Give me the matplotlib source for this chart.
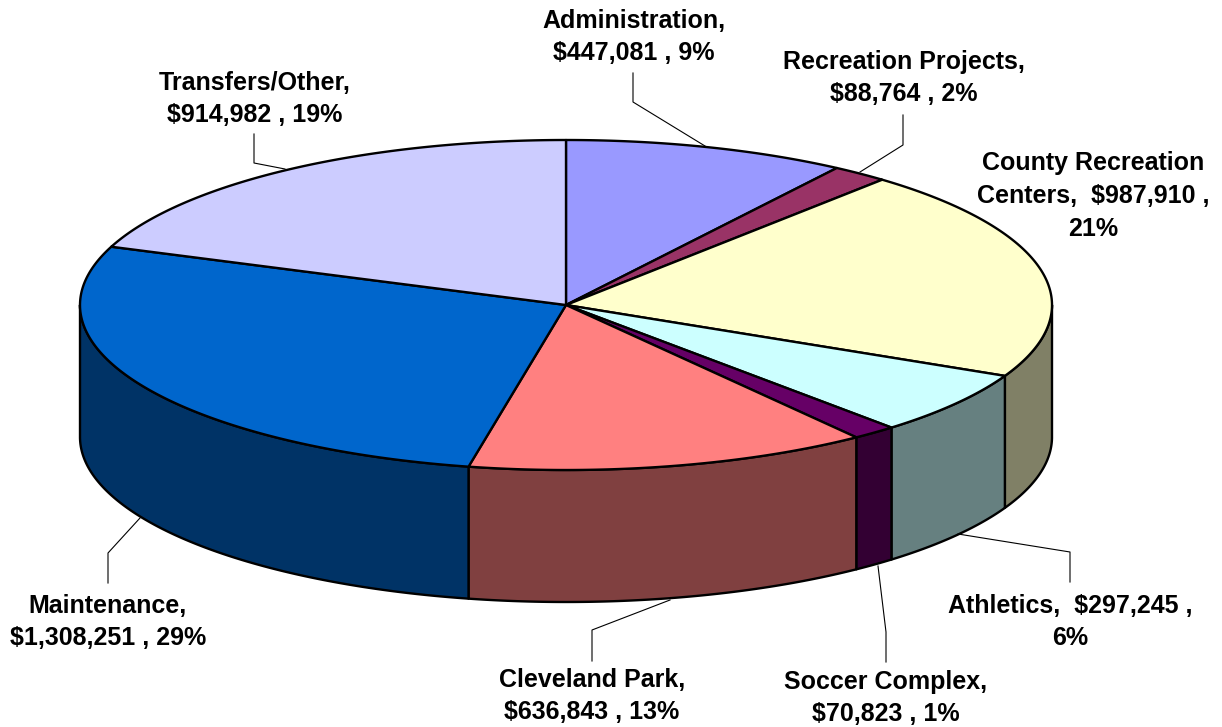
### Define Needed Libraries ###
import numpy as np
import matplotlib
matplotlib.use('Agg')
import matplotlib.pyplot as plt
from matplotlib.patches import Polygon

### Chart Data ###
names = ['Administration', 'Recreation Projects', 'County Recreation Centers', 'Athletics',
         'Soccer Complex', 'Cleveland Park', 'Maintenance', 'Transfers/Other']
values = [447081, 88764, 987910, 297245, 70823, 636843, 1308251, 914982]
labels = ['Administration,\n$447,081 , 9%',
          'Recreation Projects,\n$88,764 , 2%',
          'County Recreation\nCenters,  $987,910 ,\n21%',
          'Athletics,  $297,245 ,\n6%',
          'Soccer Complex,\n$70,823 , 1%',
          'Cleveland Park,\n$636,843 , 13%',
          'Maintenance,\n$1,308,251 , 29%',
          'Transfers/Other,\n$914,982 , 19%']
top_colors = ['#9999FF', '#993366', '#FFFFCC', '#CCFFFF', '#660066', '#FF8080', '#0066CC', '#CCCCFF']
side_colors = ['#4D4D80', '#4D1A33', '#808066', '#668080', '#330033', '#804040', '#003366', '#666680']

### Pie Geometry (pixels) ###
cx, cy = 566, 305
rx, ry = 486, 165
depth = 132

label_pos = [(634, 37), (904, 78), (1093, 196), (1070, 622),
             (886, 698), (592, 696), (108, 622), (255, 99)]
leaders = [[(633, 73), (633, 102), (705, 146)],
           [(903, 115), (903, 145), (860, 172)],
           None,
           [(1070, 582), (1070, 552), (958, 534)],
           [(886, 662), (886, 632), (878, 566)],
           [(592, 661), (592, 630), (670, 600)],
           [(108, 583), (108, 553), (140, 518)],
           [(254, 134), (254, 163), (285, 169)]]

def rim(a, b, dy=0):
    # points on the ellipse, angles clockwise from the top
    t = np.linspace(a, b, max(int((b - a) * 200), 2))
    return np.column_stack([cx + rx * np.sin(t), cy - ry * np.cos(t) + dy])

### Slice Angles ###
edges = np.concatenate([[0], np.cumsum(values)]) / np.sum(values) * 2 * np.pi

### Print ###
fig = plt.figure(figsize=(12.22, 7.27), dpi=100)
ax = fig.add_axes([0, 0, 1, 1])
ax.set_xlim(0, 1222)
ax.set_ylim(727, 0)
ax.axis('off')

# side wall, only the front half of the rim shows
for i in range(len(values)):
    a = max(edges[i], np.pi / 2)
    b = min(edges[i + 1], 3 * np.pi / 2)
    if a < b:
        pts = np.vstack([rim(a, b), rim(a, b, depth)[::-1]])
        ax.add_patch(Polygon(pts, closed=True, facecolor=side_colors[i], edgecolor='black',
                             linewidth=1.7, joinstyle='round', zorder=1))

# top face
for i in range(len(values)):
    pts = np.vstack([[(cx, cy)], rim(edges[i], edges[i + 1])])
    ax.add_patch(Polygon(pts, closed=True, facecolor=top_colors[i], edgecolor='black',
                         linewidth=1.7, joinstyle='round', zorder=2))

# leader lines
for line in leaders:
    if line is not None:
        xs, ys = zip(*line)
        ax.plot(xs, ys, color='black', linewidth=0.8, zorder=3)

# labels
for (x0, y0), txt in zip(label_pos, labels):
    ax.text(x0, y0, txt, ha='center', va='center', multialignment='center',
            family='Liberation Sans', fontweight='bold', fontsize=18,
            linespacing=1.45, color='black', zorder=4)

plt.savefig('out.png', dpi=100)
